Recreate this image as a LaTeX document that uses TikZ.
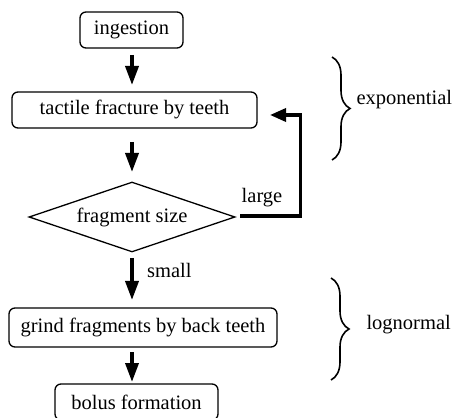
\documentclass[tikz,border=0pt]{standalone}
\usepackage{fontspec}
\setmainfont{Liberation Serif}
\usetikzlibrary{shapes.geometric,arrows.meta,decorations.pathreplacing}
\begin{document}
\begin{tikzpicture}[x=1pt,y=1pt,
  every node/.style={font=\fontsize{20.5}{24}\selectfont},
  procbox/.style={draw,line width=1.3pt,rounded corners=6pt,inner sep=0pt},
  flow/.style={line width=3.6pt,-{Triangle[length=19pt,width=13pt]}},
  brc/.style={line width=1.6pt,decorate,decoration={brace,amplitude=18pt}}]
\useasboundingbox (0,0) rectangle (462,417);
\node[procbox,minimum width=103pt,minimum height=36pt] (ing) at (131.5,387) {ingestion};
\node[procbox,minimum width=245pt,minimum height=36pt] (tac) at (134.5,307) {tactile fracture by teeth};
\node[draw,diamond,shape aspect=2.94,line width=1.3pt,inner sep=0pt,minimum width=206pt,minimum height=70pt] (dia) at (132,200) {fragment size};
\node[procbox,minimum width=268pt,minimum height=39pt] (gri) at (143,89.5) {grind fragments by back teeth};
\node[procbox,minimum width=163pt,minimum height=36pt] (bol) at (136.5,15) {bolus formation};
\coordinate (a1s) at (132,362);
\coordinate (a1e) at (132,332);
\draw[flow] (a1s) -- (a1e);
\coordinate (a2s) at (132,275);
\coordinate (a2e) at (132,245);
\draw[flow] (a2s) -- (a2e);
\coordinate (a3s) at (132,159);
\coordinate (a3e) at (132,117);
\draw[flow] (a3s) -- (a3e);
\node[anchor=west,inner sep=0pt] (sm) at (147,147) {small};
\coordinate (a4s) at (132,65);
\coordinate (a4e) at (132,35);
\draw[flow] (a4s) -- (a4e);
\coordinate (fbs) at (240,201);
\coordinate (fbc) at (300.5,201);
\coordinate (fbe) at (270,302);
\draw[line width=3.4pt,-{Triangle[length=16pt,width=13pt]}] (fbs) -- (fbc) |- (fbe);
\node[anchor=base] (lg) at (262,214) {large};
\coordinate (b1t) at (332,360);
\coordinate (b1b) at (332,257);
\draw[brc] (b1t) -- (b1b);
\node[anchor=west] (exp) at (353,317) {exponential};
\coordinate (b2t) at (331,139);
\coordinate (b2b) at (331,37);
\draw[brc] (b2t) -- (b2b);
\node[anchor=west] (logn) at (363,92) {lognormal};
\end{tikzpicture}
\end{document}
